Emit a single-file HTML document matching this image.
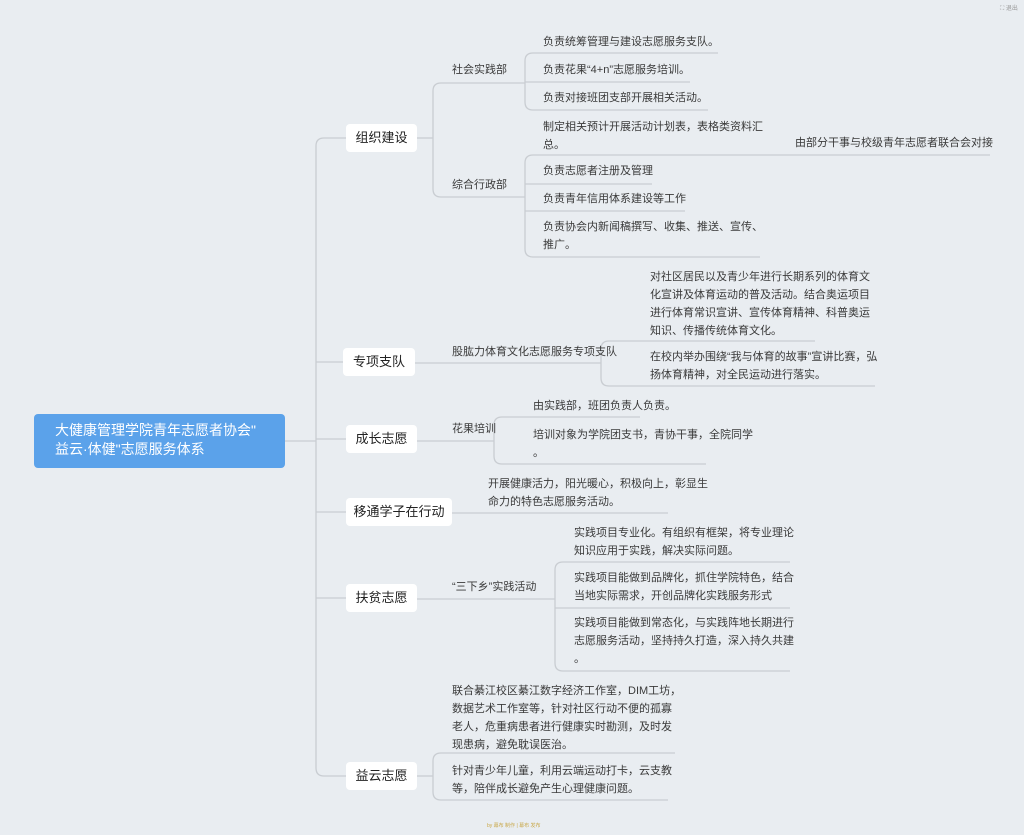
<!DOCTYPE html>
<html><head><meta charset="utf-8"><style>
html,body{margin:0;padding:0;}
body{width:1024px;height:835px;background:#e9edf1;position:relative;overflow:hidden;font-family:"Liberation Sans","Noto Sans CJK SC",sans-serif;color:#333;}
.t{position:absolute;font-size:11px;line-height:18px;white-space:nowrap;color:#3a3a3a;}
.n{position:absolute;background:#fff;border-radius:4px;font-size:13px;color:#222;height:28px;line-height:28px;text-align:center;}
.root{position:absolute;left:34px;top:414px;width:251px;height:54px;background:#5ba2ea;border-radius:4px;color:#fff;font-size:14px;line-height:19px;padding:7px 0 0 21px;box-sizing:border-box;}
svg{position:absolute;left:0;top:0;}
</style></head><body>
<svg width="1024" height="835" fill="none" stroke="#c9cdd2" stroke-width="1.3">
<!-- trunk -->
<path d="M285 441 H316"/>
<path d="M324 138 Q316 138 316 146 V768 Q316 776 324 776"/>
<path d="M324 138 H346 M316 362 H343 M316 439 H346 M316 512 H346 M316 598 H346 M324 776 H346"/>
<!-- 组织建设 -->
<path d="M417 138 H433"/>
<path d="M441 83 Q433 83 433 91 V189 Q433 197 441 197"/>
<path d="M441 83 H525 M441 197 H525"/>
<path d="M533 53 Q525 53 525 61 V102 Q525 110 533 110"/>
<path d="M533 53 H718 M525 82 H690 M533 110 H708"/>
<path d="M533 155 Q525 155 525 163 V249 Q525 257 533 257"/>
<path d="M533 155 H990 M525 184 H652 M525 211 H685 M533 257 H760"/>
<!-- 专项支队 -->
<path d="M415 363 H601"/>
<path d="M609 341 Q601 341 601 349 V378 Q601 386 609 386"/>
<path d="M609 341 H815 M609 386 H875"/>
<!-- 成长志愿 -->
<path d="M417 441 H494"/>
<path d="M502 417 Q494 417 494 425 V456 Q494 464 502 464"/>
<path d="M502 417 H640 M502 464 H706"/>
<!-- 移通 -->
<path d="M452 513 H668"/>
<!-- 扶贫 -->
<path d="M417 599 H555"/>
<path d="M563 562 Q555 562 555 570 V663 Q555 671 563 671"/>
<path d="M563 562 H790 M555 608 H790 M563 671 H790"/>
<!-- 益云 -->
<path d="M417 776 H433"/>
<path d="M441 753 Q433 753 433 761 V792 Q433 800 441 800"/>
<path d="M441 753 H675 M441 800 H668"/>
</svg>

<div class="root">大健康管理学院青年志愿者协会"<br>益云·体健"志愿服务体系</div>

<div class="n" style="left:346px;top:124px;width:71px;">组织建设</div>
<div class="n" style="left:343px;top:348px;width:72px;">专项支队</div>
<div class="n" style="left:346px;top:425px;width:71px;">成长志愿</div>
<div class="n" style="left:346px;top:498px;width:106px;">移通学子在行动</div>
<div class="n" style="left:346px;top:584px;width:71px;">扶贫志愿</div>
<div class="n" style="left:346px;top:762px;width:71px;">益云志愿</div>

<div class="t" style="left:452px;top:61px;">社会实践部</div>
<div class="t" style="left:452px;top:176px;">综合行政部</div>
<div class="t" style="left:543px;top:33px;">负责统筹管理与建设志愿服务支队。</div>
<div class="t" style="left:543px;top:61px;">负责花果“4+n”志愿服务培训。</div>
<div class="t" style="left:543px;top:89px;">负责对接班团支部开展相关活动。</div>
<div class="t" style="left:543px;top:118px;">制定相关预计开展活动计划表，表格类资料汇<br>总。</div>
<div class="t" style="left:795px;top:134px;">由部分干事与校级青年志愿者联合会对接</div>
<div class="t" style="left:543px;top:162px;">负责志愿者注册及管理</div>
<div class="t" style="left:543px;top:190px;">负责青年信用体系建设等工作</div>
<div class="t" style="left:543px;top:218px;">负责协会内新闻稿撰写、收集、推送、宣传、<br>推广。</div>

<div class="t" style="left:452px;top:343px;">股肱力体育文化志愿服务专项支队</div>
<div class="t" style="left:650px;top:268px;">对社区居民以及青少年进行长期系列的体育文<br>化宣讲及体育运动的普及活动。结合奥运项目<br>进行体育常识宣讲、宣传体育精神、科普奥运<br>知识、传播传统体育文化。</div>
<div class="t" style="left:650px;top:348px;">在校内举办围绕“我与体育的故事”宣讲比赛，弘<br>扬体育精神，对全民运动进行落实。</div>

<div class="t" style="left:452px;top:420px;">花果培训</div>
<div class="t" style="left:533px;top:397px;">由实践部，班团负责人负责。</div>
<div class="t" style="left:533px;top:426px;">培训对象为学院团支书，青协干事，全院同学<br>。</div>

<div class="t" style="left:488px;top:475px;">开展健康活力，阳光暖心，积极向上，彰显生<br>命力的特色志愿服务活动。</div>

<div class="t" style="left:452px;top:578px;">“三下乡”实践活动</div>
<div class="t" style="left:574px;top:524px;">实践项目专业化。有组织有框架，将专业理论<br>知识应用于实践，解决实际问题。</div>
<div class="t" style="left:574px;top:569px;">实践项目能做到品牌化，抓住学院特色，结合<br>当地实际需求，开创品牌化实践服务形式</div>
<div class="t" style="left:574px;top:614px;">实践项目能做到常态化，与实践阵地长期进行<br>志愿服务活动，坚持持久打造，深入持久共建<br>。</div>

<div class="t" style="left:452px;top:682px;">联合綦江校区綦江数字经济工作室，DIM工坊，<br>数据艺术工作室等，针对社区行动不便的孤寡<br>老人，危重病患者进行健康实时勘测，及时发<br>现患病，避免耽误医治。</div>
<div class="t" style="left:452px;top:762px;">针对青少年儿童，利用云端运动打卡，云支教<br>等，陪伴成长避免产生心理健康问题。</div>

<div style="position:absolute;left:487px;top:822px;font-size:5px;color:#c9a84a;">by 幕布 制作 | 幕布 发布</div>
<div style="position:absolute;left:1000px;top:3px;font-size:6px;color:#999;">⛶ 退出</div>
</body></html>
